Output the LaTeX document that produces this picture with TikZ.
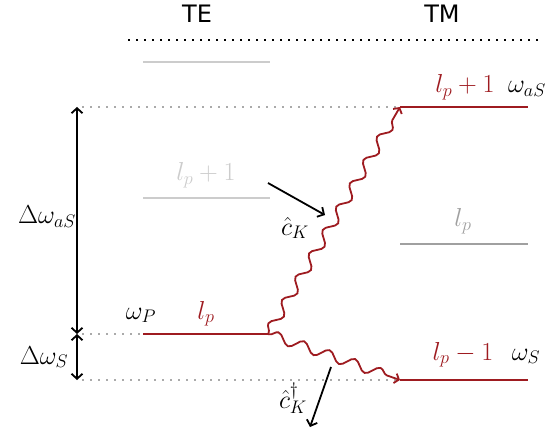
\RequirePackage{fix-cm}
\documentclass[tikz,border=0pt]{standalone}
\usepackage{fontspec}
\newfontfamily\headfont{DejaVu Sans}
\usetikzlibrary{decorations.pathmorphing,arrows.meta}
\definecolor{darkred}{RGB}{158,27,32}
\definecolor{lightgr}{RGB}{204,204,204}
\definecolor{midgr}{RGB}{160,160,160}
\definecolor{dotgr}{RGB}{170,170,170}
\begin{document}
\begin{tikzpicture}[x=1pt,y=-1pt,
  lbl/.style={inner sep=0pt,anchor=base,font=\fontsize{26}{30}\selectfont},
  head/.style={inner sep=0pt,font=\headfont\fontsize{24}{28}\selectfont},
  redlevel/.style={draw=darkred,line width=2.2pt},
  greylevel/.style={draw=lightgr,line width=2.2pt},
  midlevel/.style={draw=midgr,line width=2.2pt},
  guide/.style={draw=dotgr,line width=1.8pt,dash pattern=on 1.8pt off 6.2pt},
  topguide/.style={draw=black,line width=2pt,dash pattern=on 2pt off 6pt},
  dimarrow/.style={draw=black,line width=1.8pt,{Straight Barb[length=5pt,width=11pt]}-{Straight Barb[length=5pt,width=11pt]}},
  oparrow/.style={draw=black,line width=1.8pt,-{Straight Barb[length=5pt,width=11pt]}},
  wave/.style={draw=darkred,line width=1.8pt,decorate,
    decoration={snake,amplitude=5pt,segment length=27pt,pre length=1pt,post length=3pt},
    -{Straight Barb[length=4pt,width=10pt]}}]
\useasboundingbox (0,0) rectangle (548,435);

% headings
\node[head] (te) at (197,14) {TE};
\node[head] (tm) at (442,14) {TM};
\coordinate (d1) at (128,40);
\coordinate (d2) at (540,40);
\draw[topguide] (d1) -- (d2);

% TE levels
\coordinate (t1a) at (143,62);  \coordinate (t1b) at (270,62);
\coordinate (t2a) at (143,198); \coordinate (t2b) at (270,198);
\coordinate (t3a) at (143,334); \coordinate (t3b) at (268,334);
\draw[greylevel] (t1a) -- (t1b);
\draw[greylevel] (t2a) -- (t2b);
\draw[redlevel] (t3a) -- (t3b);

% TM levels
\coordinate (m1a) at (400,107); \coordinate (m1b) at (528,107);
\coordinate (m2a) at (400,244); \coordinate (m2b) at (528,244);
\coordinate (m3a) at (400,380); \coordinate (m3b) at (528,380);
\draw[redlevel] (m1a) -- (m1b);
\draw[midlevel] (m2a) -- (m2b);
\draw[redlevel] (m3a) -- (m3b);

% guides
\coordinate (g1) at (82,107);
\coordinate (g2) at (82,334);
\coordinate (g3) at (82,380);
\draw[guide] (g1) -- (m1a);
\draw[guide] (g2) -- (t3a);
\draw[guide] (g3) -- (m3a);

% dimension arrows
\coordinate (v1) at (77,107);
\coordinate (v2) at (77,334);
\coordinate (v3) at (77,380);
\draw[dimarrow] (v1) -- (v2);
\draw[dimarrow] (v2) -- (v3);
\node[lbl] (daS) at (47,224) {$\Delta\omega_{aS}$};
\node[lbl] (dS) at (44,364) {$\Delta\omega_{S}$};

% level labels
\node[lbl,text=lightgr] (te2) at (206,181) {$l_p+1$};
\node[lbl] (wP) at (141,319) {$\omega_P$};
\node[lbl,text=darkred] (te3) at (206,319) {$l_p$};
\node[lbl,text=darkred] (tm1) at (465,93) {$l_p+1$};
\node[lbl] (waS) at (527,93) {$\omega_{aS}$};
\node[lbl,text=midgr] (tm2) at (463,227) {$l_p$};
\node[lbl,text=darkred] (tm3) at (463,360) {$l_p-1$};
\node[lbl] (wS) at (526,360) {$\omega_S$};

% wavy transitions
\draw[wave] (t3b) -- (m1a);
\draw[wave] (t3b) -- (m3a);

% operators
\coordinate (c1s) at (268,183);
\coordinate (c1e) at (325,215);
\draw[oparrow] (c1s) -- (c1e);
\node[lbl,anchor=center] (cK) at (295,228) {$\hat{c}_K$};
\coordinate (c2s) at (331,367);
\coordinate (c2e) at (310,427);
\draw[oparrow] (c2s) -- (c2e);
\node[lbl,anchor=center] (cKd) at (293,398) {$\hat{c}_K^\dagger$};
\end{tikzpicture}
\end{document}
